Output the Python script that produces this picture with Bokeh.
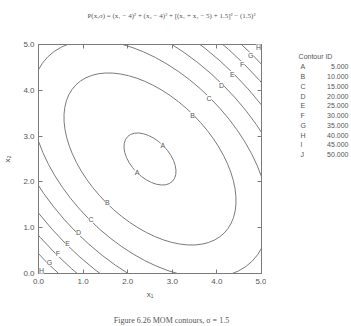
import math
from bokeh.plotting import figure
from bokeh.models import (ColumnDataSource, LabelSet, LinearAxis,
                          FixedTicker, PrintfTickFormatter, Range1d)
from bokeh.core.properties import value
from bokeh.layouts import column, row
from bokeh.embed import file_html
from bokeh.resources import INLINE

# ---- data ----
contour_ids = ["A", "B", "C", "D", "E", "F", "G", "H", "I", "J"]
contour_levels = [5.0, 10.0, 15.0, 20.0, 25.0, 30.0, 35.0, 40.0, 45.0, 50.0]
# ellipse semi-axes (x-units) along the (1,-1) and (1,1) directions
semi_major = [0.71, 2.35, 3.24, 3.94, 4.53, 5.05, 5.52, 5.96, 6.36, 6.75]
semi_minor = [0.41, 1.35, 1.87, 2.27, 2.61, 2.92, 3.19, 3.44, 3.67, 3.90]
center_x1 = 2.5
center_x2 = 2.5
axis_ticks = [0.0, 1.0, 2.0, 3.0, 4.0, 5.0]

title_text = ("P(x,σ) = (x\u2081 \u2212 4)\u00b2 + (x\u2082 \u2212 4)\u00b2 + "
              "[(x\u2081 + x\u2082 \u2212 5) + 1.5]\u00b2 \u2212 (1.5)\u00b2")
caption_text = "Figure 6.26    MOM contours, σ = 1.5"
legend_title = "Contour ID"

LINE = "#7a7a7a"
TEXT = "#555555"
SANS = "Liberation Sans"
SERIF = "Liberation Serif"


def blank_fig(w, h, xr, yr):
    f = figure(width=w, height=h, x_range=Range1d(*xr), y_range=Range1d(*yr),
               x_axis_type=None, y_axis_type=None, output_backend="svg",
               toolbar_location=None, min_border=0)
    f.outline_line_color = None
    f.grid.visible = False
    return f


# ---------- main contour plot ----------
p = figure(frame_width=223, frame_height=229, x_range=Range1d(0, 5),
           y_range=Range1d(0, 5), output_backend="svg", toolbar_location=None,
           min_border_left=38, min_border_right=5, min_border_top=8,
           min_border_bottom=28, x_axis_label="x\u2081", y_axis_label="x\u2082")
p.outline_line_color = LINE
p.grid.visible = False

src = ColumnDataSource(dict(
    x=[center_x1] * len(contour_levels),
    y=[center_x2] * len(contour_levels),
    w=[2 * a for a in semi_major],
    h=[2 * b for b in semi_minor],
))
p.ellipse(x="x", y="y", width="w", height="h", angle=-math.pi / 4,
          fill_color=None, line_color=LINE, line_width=1, source=src)

lx, ly, lt = [], [], []
for cid, b in zip(contour_ids, semi_minor):
    d = b / math.sqrt(2)
    for s in (1, -1):
        px, py = center_x1 + s * d, center_x2 + s * d
        if 0.05 <= px <= 4.95 and 0.05 <= py <= 4.95:
            lx.append(px); ly.append(py); lt.append(cid)
lab_src = ColumnDataSource(dict(x=lx, y=ly, t=lt))
p.add_layout(LabelSet(x="x", y="y", text="t", source=lab_src,
                      text_font=value(SANS), text_font_size="7px",
                      text_color=TEXT, text_align="center",
                      text_baseline="middle", background_fill_color="white"))

for ax in (p.xaxis[0], p.yaxis[0]):
    ax.ticker = FixedTicker(ticks=axis_ticks)
    ax.formatter = PrintfTickFormatter(format="%.1f")
    ax.major_tick_in = 4
    ax.major_tick_out = 0
    ax.minor_tick_line_color = None
    ax.axis_line_color = LINE
    ax.major_tick_line_color = LINE
    ax.major_label_text_font = SANS
    ax.major_label_text_font_size = "8px"
    ax.major_label_text_color = TEXT
    ax.axis_label_text_font = SANS
    ax.axis_label_text_font_size = "8px"
    ax.axis_label_text_font_style = "normal"
    ax.axis_label_text_color = TEXT
p.xaxis[0].major_label_standoff = 5
p.xaxis[0].axis_label_standoff = 3
p.yaxis[0].major_label_standoff = 4
p.yaxis[0].axis_label_standoff = 8

# mirrored inward ticks on top and right, without labels
for side in ("above", "right"):
    ax = LinearAxis(ticker=FixedTicker(ticks=axis_ticks),
                    major_tick_in=4, major_tick_out=0,
                    minor_tick_line_color=None, axis_line_color=LINE,
                    major_tick_line_color=LINE,
                    major_label_text_color=None,
                    major_label_text_font_size="1px", major_label_standoff=0)
    p.add_layout(ax, side)

# ---------- title strip ----------
t_fig = blank_fig(351, 36, (0, 351), (36, 0))
t_fig.text(x=[171], y=[15], text=[title_text], text_font=value(SERIF),
           text_font_size="7px", text_color=TEXT, text_align="center",
           text_baseline="middle")

# ---------- legend column ----------
l_fig = blank_fig(85, 265, (0, 85), (265, 0))
l_fig.text(x=[49], y=[14], text=[legend_title], text_font=value(SANS),
           text_font_size="7px", text_color=TEXT, text_align="center",
           text_baseline="middle")
row_pos = [26 + 11.25 * i for i in range(len(contour_ids))]
l_fig.text(x=[34] * len(contour_ids), y=row_pos, text=contour_ids,
           text_font=value(SANS), text_font_size="7px", text_color=TEXT,
           text_align="left", text_baseline="middle")
l_fig.text(x=[82] * len(contour_levels), y=row_pos,
           text=[f"{v:.3f}" for v in contour_levels],
           text_font=value(SANS), text_font_size="7px", text_color=TEXT,
           text_align="right", text_baseline="middle")

# ---------- caption strip ----------
c_fig = blank_fig(351, 25, (0, 351), (25, 0))
c_fig.text(x=[174], y=[19], text=[caption_text], text_font=value(SERIF),
           text_font_size="8px", text_color=TEXT, text_align="center",
           text_baseline="middle")

layout = column(t_fig, row(p, l_fig), c_fig)
open("out.html", "w").write(file_html(layout, INLINE))
